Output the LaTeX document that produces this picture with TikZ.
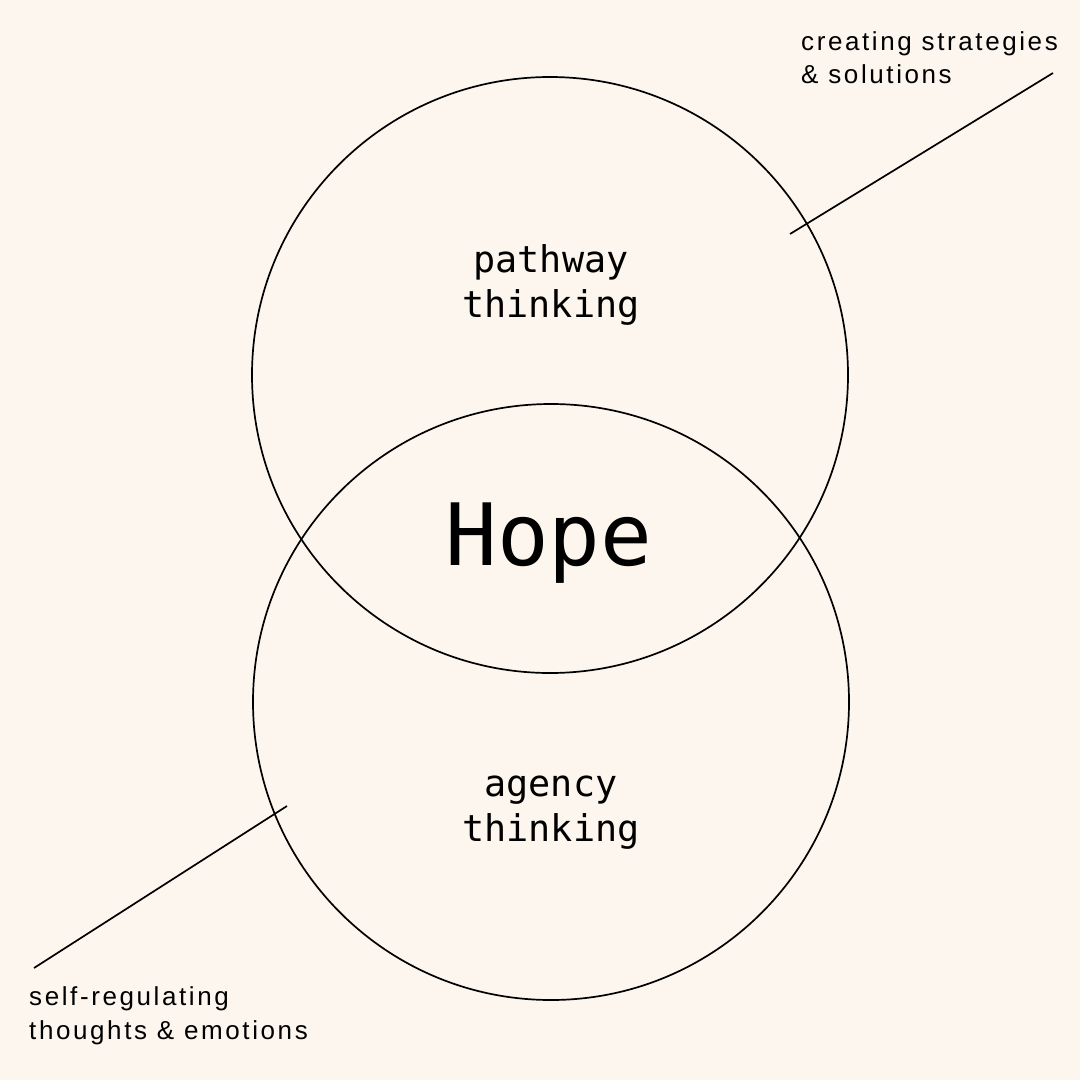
\documentclass[tikz,border=0pt]{standalone}
\usepackage{fontspec}
\setmainfont{Liberation Sans}
\newfontfamily\monof{DejaVu Sans Mono}
\newfontfamily\labf[LetterSpace=10]{Liberation Sans}
\definecolor{bgc}{HTML}{FCF6EE}
\begin{document}
\begin{tikzpicture}[x=1pt,y=-1pt,
  ring/.style={draw=black,line width=1.7pt},
  leader/.style={draw=black,line width=1.7pt},
  mono/.style={font=\monof\fontsize{36.8}{44}\selectfont,align=center,inner sep=0pt,anchor=base},
  lab/.style={font=\labf\fontsize{26}{33.5}\selectfont,align=left,inner sep=0pt,anchor=base west}]
\fill[bgc] (0,0) rectangle (1080,1080);
\useasboundingbox (0,0) rectangle (1080,1080);
\draw[ring] (550,375) circle (298);
\draw[ring] (551,702) circle (298);
\node[mono] (p1) at (551,272) {pathway};
\node[mono] (p2) at (551,317) {thinking};
\node[mono] (a1) at (551,796) {agency};
\node[mono] (a2) at (551,841) {thinking};
\node[font=\monof\fontsize{86}{90}\selectfont,inner sep=0pt,anchor=base] (hope) at (549,565) {Hope};
\node[lab] (c1) at (801,50) {creating strategies};
\node[lab] (c2) at (801,83) {\& solutions};
\node[lab] (s1) at (29,1005) {self-regulating};
\node[lab] (s2) at (29,1039) {thoughts \& emotions};
\coordinate (t1) at (790,234);
\coordinate (t2) at (1053,73);
\coordinate (b1) at (287,806);
\coordinate (b2) at (34,968);
\draw[leader] (t1) -- (t2);
\draw[leader] (b1) -- (b2);
\end{tikzpicture}
\end{document}
